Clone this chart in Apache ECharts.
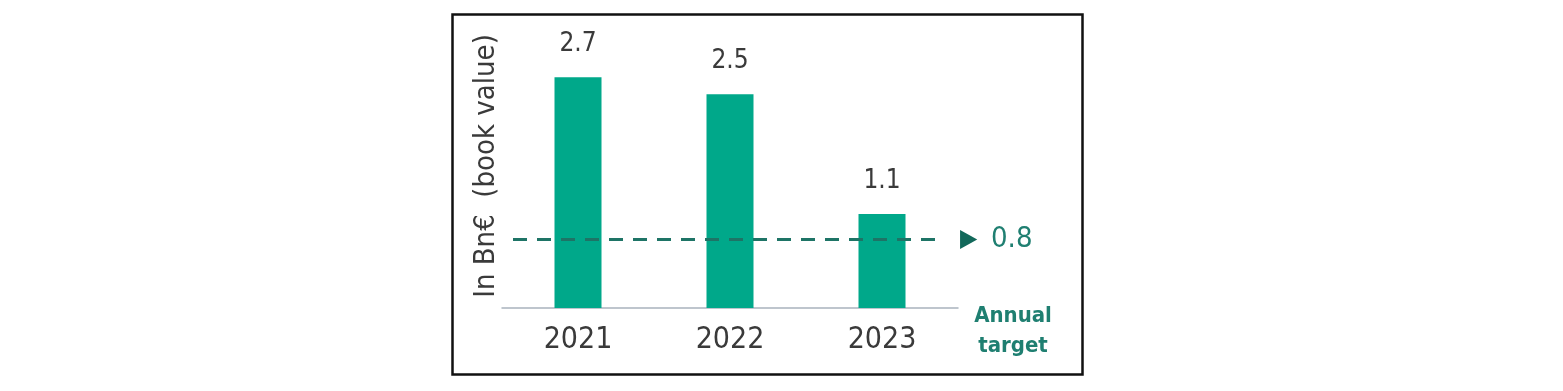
<!DOCTYPE html>
<html>
<head>
<meta charset="utf-8">
<script src="https://cdn.jsdelivr.net/npm/echarts@6/dist/echarts.min.js"></script>
<style>
html,body{margin:0;padding:0;background:#fff;}
#chart{width:1563px;height:391px;}
</style>
</head>
<body>
<div id="chart"></div>
<script>
const categories = ['2021', '2022', '2023'];
const values = [2.7, 2.5, 1.1];
const targetValue = 0.8;
const yAxisTitle = 'In Bn€  (book value)';
const targetTitle = 'Annual\ntarget';

const FONT = '"Liberation Sans Narrow", "DejaVu Sans Condensed", "Liberation Sans", sans-serif';
const chart = echarts.init(document.getElementById('chart'), null, {renderer: 'canvas'});

const option = {
  backgroundColor: '#ffffff',
  animation: false,
  grid: [
    {left: 502, width: 456, top: 51.5, bottom: 83},
    {left: 513, width: 425, top: 51.5, bottom: 83}
  ],
  xAxis: [
    {
      type: 'category', gridIndex: 0, data: categories,
      axisLine: {show: true, lineStyle: {color: '#a9b3bd', width: 1.5}},
      axisTick: {show: false},
      axisLabel: {color: '#3a3a3a', fontSize: 30, fontFamily: FONT, margin: 17}
    },
    {type: 'category', gridIndex: 1, data: ['', ''], boundaryGap: false, show: false}
  ],
  yAxis: [
    {type: 'value', gridIndex: 0, min: 0, max: 3, show: false},
    {type: 'value', gridIndex: 1, min: 0, max: 3, show: false}
  ],
  series: [
    {
      type: 'bar', xAxisIndex: 0, yAxisIndex: 0, data: values, barWidth: 47,
      itemStyle: {color: '#00a88a'},
      label: {show: true, position: 'top', distance: 20, color: '#3a3a3a', fontSize: 26, fontFamily: FONT,
        formatter: p => p.value.toFixed(1)}
    },
    {
      type: 'line', xAxisIndex: 1, yAxisIndex: 1, data: [targetValue, targetValue],
      symbol: 'none', z: 5,
      lineStyle: {color: '#1e7466', width: 3, type: [14, 10]},
      endLabel: {show: true, distance: 22,
        formatter: () => '{t|▶}{s|}{v|' + targetValue.toFixed(1) + '}',
        rich: {
          t: {color: '#12685a', fontSize: 25, fontFamily: 'DejaVu Sans Condensed', width: 14},
          s: {width: 17},
          v: {color: '#1f7f71', fontSize: 29, fontFamily: FONT}
        }}
    }
  ],
  graphic: [
    {type: 'rect', shape: {x: 452.5, y: 14.5, width: 630, height: 360},
     style: {fill: 'none', stroke: '#111111', lineWidth: 2.5}, silent: true},
    {type: 'text', x: 486, y: 166, rotation: Math.PI / 2, silent: true,
     style: {text: yAxisTitle, fill: '#3a3a3a', fontSize: 29, fontFamily: FONT,
       align: 'center', verticalAlign: 'middle'}},
    {type: 'text', x: 1013, y: 331, silent: true,
     style: {text: targetTitle, fill: '#1f7f71', fontSize: 22, fontWeight: 'bold', fontFamily: FONT,
       align: 'center', verticalAlign: 'middle', lineHeight: 30}}
  ]
};
chart.setOption(option);
</script>
</body>
</html>
